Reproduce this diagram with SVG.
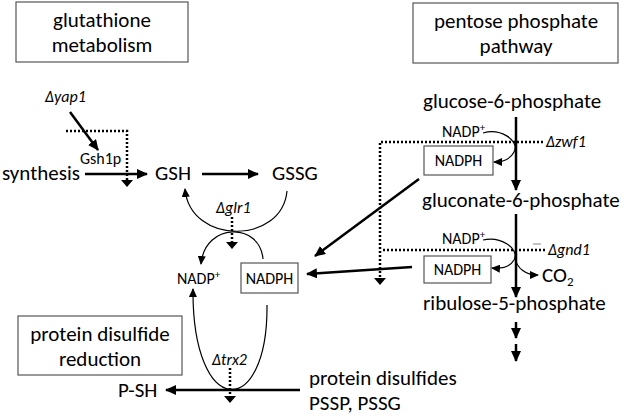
<svg xmlns="http://www.w3.org/2000/svg" width="625" height="416" viewBox="0 0 625 416">
<style>
text{font-family:Carlito,Lato,"Liberation Sans",sans-serif;fill:#000}
.big{font-size:21px}
.title{font-size:21px;text-anchor:middle}
.sm{font-size:16px}
.it{font-style:italic}
.box{fill:#fff;stroke:#555;stroke-width:1.2}
.thick{fill:none;stroke:#000;stroke-width:2.5}
.thin{fill:none;stroke:#000;stroke-width:1.2}
.dot{fill:none;stroke:#000;stroke-width:2.5;stroke-dasharray:2 2}
.tri{fill:#000}
</style>
<defs>
<marker id="ah" markerUnits="userSpaceOnUse" markerWidth="12" markerHeight="10" refX="10" refY="5" orient="auto"><path d="M0,0 L11,5 L0,10 Z" fill="#000"/></marker>
<marker id="ahs" markerUnits="userSpaceOnUse" markerWidth="10" markerHeight="8" refX="8" refY="4" orient="auto"><path d="M0,0 L9,4 L0,8 Z" fill="#000"/></marker>
</defs>

<g id="title-glutathione"><rect class="box" x="16" y="2" width="172" height="60"/><text class="title" x="102" y="27">glutathione</text><text class="title" x="102" y="52">metabolism</text></g>
<g id="title-ppp"><rect class="box" x="413" y="3" width="205" height="60"/><text class="title" x="516" y="28">pentose phosphate</text><text class="title" x="516" y="53">pathway</text></g>
<g id="title-pdr"><rect class="box" x="18" y="316" width="164" height="59"/><text class="title" x="100" y="341">protein disulfide</text><text class="title" x="100" y="366">reduction</text></g>

<g id="synthesis"><text class="big" x="2" y="180">synthesis</text></g>
<g id="gsh"><text class="big" x="155" y="180">GSH</text></g>
<g id="gssg"><text class="big" x="272" y="180">GSSG</text></g>
<g id="gsh1p"><text class="sm" x="80" y="164">Gsh1p</text></g>
<g id="dyap1"><text class="sm it" x="45" y="102">Δyap1</text></g>
<g id="dglr1"><text class="sm it" x="216" y="213">Δglr1</text></g>
<g id="nadp-left"><text class="sm" x="177" y="284">NADP<tspan font-size="11" dy="-6">+</tspan></text></g>
<g id="nadph-left"><rect class="box" x="241" y="263" width="57" height="30"/><text class="sm" x="269.5" y="284" text-anchor="middle">NADPH</text></g>
<g id="dtrx2"><text class="sm it" x="212" y="365">Δtrx2</text></g>
<g id="psh"><text class="big" x="118" y="397">P-SH</text></g>
<g id="pdisulf"><text class="big" x="309" y="385">protein disulfides</text><text class="big" x="309" y="410">PSSP, PSSG</text></g>

<g id="g6p"><text class="big" x="423" y="108">glucose-6-phosphate</text></g>
<g id="gn6p"><text class="big" x="422" y="207">gluconate-6-phosphate</text></g>
<g id="ru5p"><text class="big" x="423" y="310">ribulose-5-phosphate</text></g>
<g id="co2"><text class="big" x="542" y="282">CO<tspan font-size="13" dy="4">2</tspan></text></g>
<g id="nadp-zwf"><text class="sm" x="442" y="137">NADP<tspan font-size="11" dy="-6">+</tspan></text></g>
<g id="nadph-zwf"><rect class="box" x="424" y="146" width="69" height="29"/><text class="sm" x="458.5" y="166" text-anchor="middle">NADPH</text></g>
<g id="dzwf1"><text class="sm it" x="546" y="147">Δzwf1</text></g>
<g id="nadp-gnd"><text class="sm" x="442" y="244">NADP<tspan font-size="11" dy="-6">+</tspan></text></g>
<g id="nadph-gnd"><rect class="box" x="424" y="256" width="67" height="27"/><text class="sm" x="457.5" y="275" text-anchor="middle">NADPH</text></g>
<g id="dgnd1"><text class="sm it" x="548" y="255">Δgnd1</text><line x1="533" y1="244" x2="541" y2="244" stroke="#888" stroke-width="1"/></g>

<g id="connectors">
<line class="thick" x1="85" y1="174" x2="147" y2="174" marker-end="url(#ah)"/>
<line class="thick" x1="202" y1="174" x2="258" y2="174" marker-end="url(#ah)"/>
<line class="thick" x1="70" y1="112" x2="98" y2="150" marker-end="url(#ah)"/>
<path class="dot" d="M66 131 H127 V180"/>
<polygon class="tri" points="121,180 133,180 127,187"/>

<path class="thin" d="M287 191 C282 245,190 245,185 189" marker-end="url(#ahs)"/>
<path class="thin" d="M263 259 C260 222,205 222,201 264" marker-end="url(#ahs)"/>
<path class="dot" d="M232 217 V242"/>
<polygon class="tri" points="226,242 238,242 232,249"/>

<path class="thin" d="M267 305 C268 420,192 420,193 289" marker-end="url(#ahs)"/>
<line class="thick" x1="300" y1="390" x2="166" y2="390" marker-end="url(#ah)"/>
<path class="dot" d="M230 368 V396"/>
<polygon class="tri" points="224,396 236,396 230,403"/>

<line class="thick" x1="516" y1="117" x2="516" y2="190" marker-end="url(#ah)"/>
<line class="thick" x1="516" y1="214" x2="516" y2="297" marker-end="url(#ah)"/>
<line class="thick" x1="516" y1="322" x2="516" y2="338" marker-end="url(#ah)"/>
<line class="thick" x1="516" y1="344" x2="516" y2="361" marker-end="url(#ah)"/>

<path class="thin" d="M483 133 C500 128,520 140,514 152 C510 160,503 162,494 162" marker-end="url(#ahs)"/>
<path class="thin" d="M483 240 C500 236,520 248,514 260 C510 267,503 269,492 268" marker-end="url(#ahs)"/>
<path class="thin" d="M515 258 C517 268,525 275,538 275" marker-end="url(#ahs)"/>

<path class="dot" d="M543 142 H380 V278"/>
<path class="dot" d="M545 250 H382"/>
<polygon class="tri" points="374,278 386,278 380,285"/>

<line class="thick" x1="419" y1="179" x2="315" y2="256" marker-end="url(#ah)"/>
<line class="thick" x1="412" y1="267" x2="307" y2="274" marker-end="url(#ah)"/>
</g>
</svg>
